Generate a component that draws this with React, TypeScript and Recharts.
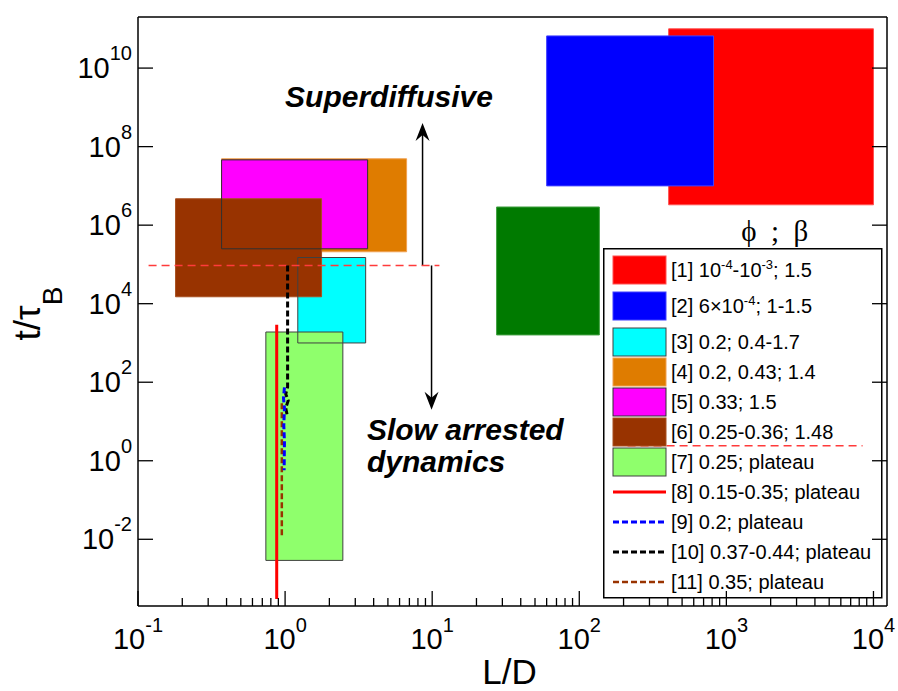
import {
  ComposedChart,
  Legend,
  Line,
  ReferenceArea,
  ReferenceDot,
  ReferenceLine,
  XAxis,
  YAxis,
} from 'recharts'

const SANS = '"Liberation Sans", Arial, Helvetica, sans-serif'
const SERIF = '"Liberation Serif", "Times New Roman", serif'

// shaded boxes, in drawing order (L/D range, t/tauB range)
const boxRefs = ['[1]', '[2]', 'extra', '[3]', '[4]', '[5]', '[6]', '[7]']
const boxLdLow = [405, 60, 27.4, 1.22, 0.37, 0.37, 0.18, 0.74]
const boxLdHigh = [10000, 818, 137, 3.53, 6.7, 3.64, 1.77, 2.47]
const boxTLow = [3.3e6, 1e7, 1.6e3, 1e3, 2.1e5, 2.5e5, 1.5e4, 2.9e-3]
const boxTHigh = [1e11, 6.6e10, 2.9e6, 1.5e5, 4.9e7, 4.6e7, 4.7e6, 1.9e3]

// plateau traces
const ref8 = [{ ld: 0.877, t: 2.9e3 }, { ld: 0.877, t: 3e-4 }]
const ref9 = [
  { ld: 0.99, t: 74 },
  { ld: 0.975, t: 40 },
  { ld: 0.99, t: 22 },
  { ld: 0.98, t: 8 },
  { ld: 0.99, t: 3 },
  { ld: 0.985, t: 0.57 },
]
const ref10 = [
  { ld: 1.04, t: 9.4e4 },
  { ld: 1.04, t: 75 },
  { ld: 1.01, t: 50 },
  { ld: 1.05, t: 34 },
  { ld: 1.01, t: 22 },
  { ld: 1.04, t: 13 },
]
const ref11 = [{ ld: 0.95, t: 29 }, { ld: 0.95, t: 0.0115 }]

// dashed red separators
const divider = [{ ld: 0.118, t: 9.4e4 }, { ld: 11.2, t: 9.4e4 }]
const divider2 = [{ ld: 213, t: 2.4 }, { ld: 8430, t: 2.4 }]

const upArrow = [{ x: 8.6, y: 9.4e4 }, { x: 8.6, y: 4e8 }]
const downArrow = [{ x: 9.9, y: 9.4e4 }, { x: 9.9, y: 20 }]

const legendLabels = [
  '[1] 10^{-4}-10^{-3}; 1.5',
  '[2] 6×10^{-4}; 1-1.5',
  '[3] 0.2; 0.4-1.7',
  '[4] 0.2, 0.43; 1.4',
  '[5] 0.33; 1.5',
  '[6] 0.25-0.36; 1.48',
  '[7] 0.25; plateau',
  '[8] 0.15-0.35; plateau',
  '[9] 0.2; plateau',
  '[10] 0.37-0.44; plateau',
  '[11] 0.35; plateau',
]

const xMajor = [0.1, 1, 10, 100, 1000, 10000]
const xMinorSteps = [2, 3, 4, 5, 6, 7, 8, 9]
const yMajor = [1e-2, 1, 1e2, 1e4, 1e6, 1e8, 1e10]

const X_DOMAIN = [0.1, 12360]
const Y_DOMAIN = [2e-4, 2e11]

const xTicks = xMajor.concat(xMajor.slice(0, -1).flatMap((d) => xMinorSteps.map((m) => d * m)))

const boxFill: Record<string, string> = {
  '[1]': '#ff0000',
  '[2]': '#0000ff',
  extra: '#007a00',
  '[3]': '#00ffff',
  '[4]': '#df7c00',
  '[5]': '#ff00ff',
  '[6]': '#983300',
  '[7]': '#8fff6c',
}
const boxEdge: Record<string, string> = {
  '[1]': '#ff5050',
  '[2]': '#4040ff',
  extra: '#40a040',
  '[3]': '#404040',
  '[4]': '#f0a050',
  '[5]': '#303030',
  '[6]': '#a85020',
  '[7]': '#404040',
}
// boxes whose dark outline stays visible on top of everything
const darkEdged = ['[3]', '[5]', '[7]']

const lineStyle: Record<string, { color: string; dash?: string; width: number }> = {
  '[8]': { color: '#ff0000', width: 3 },
  '[9]': { color: '#0000ff', dash: '6 3', width: 3 },
  '[10]': { color: '#000000', dash: '6 3', width: 3 },
  '[11]': { color: '#993300', dash: '6 3', width: 2.5 },
}

const isDecade = (v: number) => Math.abs(Math.log10(v) - Math.round(Math.log10(v))) < 1e-6
const expOf = (v: number) => String(Math.round(Math.log10(v)))

const BottomTick = (p: any) => {
  const v = p.payload.value
  const major = isDecade(v)
  return (
    <g>
      <line x1={p.x} x2={p.x} y1={p.y} y2={p.y - (major ? 15 : 8)} stroke="#000" strokeWidth={1.3} />
      {major && (
        <text x={p.x} y={p.y + 43} textAnchor="middle" fontFamily={SANS} fontSize={29} fill="#000">
          10<tspan dy={-17} fontSize={20}>{expOf(v)}</tspan>
        </text>
      )}
    </g>
  )
}

const TopTick = (p: any) => {
  const major = isDecade(p.payload.value)
  return <line x1={p.x} x2={p.x} y1={p.y} y2={p.y + (major ? 15 : 8)} stroke="#000" strokeWidth={1.3} />
}

const LeftTick = (p: any) => (
  <g>
    <line x1={p.x} x2={p.x + 15} y1={p.y} y2={p.y} stroke="#000" strokeWidth={1.3} />
    <text x={p.x - 6} y={p.y + 10} textAnchor="end" fontFamily={SANS} fontSize={29} fill="#000">
      10<tspan dy={-18} fontSize={20}>{expOf(p.payload.value)}</tspan>
    </text>
  </g>
)

const RightTick = (p: any) => <line x1={p.x} x2={p.x - 15} y1={p.y} y2={p.y} stroke="#000" strokeWidth={1.3} />

const XTitle = (p: any) => {
  const vb = p.viewBox
  return (
    <text x={vb.x + vb.width / 2 - 3} y={vb.y + 78} textAnchor="middle" fontFamily={SANS} fontSize={35} fill="#000">
      L/D
    </text>
  )
}

const YTitle = (p: any) => {
  const vb = p.viewBox
  const cx = vb.x + 2
  const cy = vb.y + vb.height / 2 + 2
  return (
    <text transform={`rotate(-90 ${cx} ${cy})`} x={cx} y={cy} textAnchor="middle" fontFamily={SANS} fontSize={37} fill="#000">
      t/τ<tspan dy={22} fontSize={28}>B</tspan>
    </text>
  )
}

const ArrowShape = (p: any) => {
  const { x1, y1, x2, y2 } = p
  const dir = y2 < y1 ? 1 : -1
  const head = `M${x2},${y2} L${x2 - 7},${y2 + dir * 18} L${x2},${y2 + dir * 12} L${x2 + 7},${y2 + dir * 18} Z`
  return (
    <g>
      <line x1={x1} y1={y1} x2={x2} y2={y2 + dir * 10} stroke="#000" strokeWidth={1.5} />
      <path d={head} fill="#000" />
    </g>
  )
}

function richText(label: string, size: number) {
  const parts = label.split(/\^\{([^}]*)\}/)
  const out: any[] = []
  let raised = false
  parts.forEach((s, i) => {
    if (i % 2 === 1) {
      out.push(<tspan key={i} dy={-8} fontSize={size * 0.65}>{s}</tspan>)
      raised = true
    } else if (s) {
      out.push(<tspan key={i} dy={raised ? 8 : 0} fontSize={size}>{s}</tspan>)
      raised = false
    }
  })
  return out
}

function LegendBox() {
  let cy = 22
  const rows = legendLabels.map((label) => {
    const ref = label.slice(0, label.indexOf(']') + 1)
    const y = cy
    cy += label.includes('^{') ? 36 : 30
    const line = lineStyle[ref]
    return (
      <g key={ref}>
        {line ? (
          <line x1={10} x2={63} y1={y} y2={y} stroke={line.color} strokeWidth={line.width} strokeDasharray={line.dash} />
        ) : (
          <rect x={10} y={y - 14} width={53} height={28} fill={boxFill[ref]} stroke={boxEdge[ref]} strokeWidth={1} />
        )}
        <text x={68} y={y + 7} fontFamily={SANS} fontSize={20} fill="#000">
          {richText(label, 20)}
        </text>
      </g>
    )
  })
  return (
    <svg width={280} height={351} style={{ display: 'block' }}>
      <rect x={0.75} y={0.75} width={278} height={349} fill="none" stroke="#000" strokeWidth={1.5} />
      {rows}
    </svg>
  )
}

const Annot = ({ cx, cy, children, anchor = 'start', font = SANS, size = 30, bold = true }: any) => (
  <text
    x={cx}
    y={cy}
    textAnchor={anchor}
    fontFamily={font}
    fontSize={size}
    fontWeight={bold ? 'bold' : 'normal'}
    fontStyle={bold ? 'italic' : 'normal'}
    fill="#000"
  >
    {children}
  </text>
)

export default function App() {
  return (
    <div style={{ position: 'absolute', left: 0, top: 0, width: 898, height: 691, background: '#fff' }}>
      <ComposedChart width={898} height={691} margin={{ top: 16, right: 10, bottom: 35, left: 38 }}>
        <XAxis
          xAxisId={0}
          dataKey="ld"
          type="number"
          scale="log"
          domain={X_DOMAIN}
          allowDataOverflow
          ticks={xTicks}
          interval={0}
          height={50}
          tickSize={0}
          tickMargin={0}
          tickLine={false}
          axisLine={{ stroke: '#000', strokeWidth: 1.5 }}
          tick={BottomTick}
          label={{ content: XTitle }}
        />
        <XAxis
          xAxisId="top"
          orientation="top"
          type="number"
          scale="log"
          domain={X_DOMAIN}
          allowDataOverflow
          ticks={xTicks}
          interval={0}
          height={1}
          tickSize={0}
          tickMargin={0}
          tickLine={false}
          axisLine={{ stroke: '#000', strokeWidth: 1.5 }}
          tick={TopTick}
        />
        <YAxis
          yAxisId={0}
          type="number"
          scale="log"
          domain={Y_DOMAIN}
          allowDataOverflow
          ticks={yMajor}
          interval={0}
          width={100}
          tickSize={0}
          tickMargin={0}
          tickLine={false}
          axisLine={{ stroke: '#000', strokeWidth: 1.5 }}
          tick={LeftTick}
          label={{ content: YTitle }}
        />
        <YAxis
          yAxisId="right"
          orientation="right"
          type="number"
          scale="log"
          domain={Y_DOMAIN}
          allowDataOverflow
          ticks={yMajor}
          interval={0}
          width={1}
          tickSize={0}
          tickMargin={0}
          tickLine={false}
          axisLine={{ stroke: '#000', strokeWidth: 1.5 }}
          tick={RightTick}
        />

        {boxRefs.map((ref, i) => (
          <ReferenceArea
            key={'fill' + ref}
            x1={boxLdLow[i]}
            x2={boxLdHigh[i]}
            y1={boxTLow[i]}
            y2={boxTHigh[i]}
            fill={boxFill[ref]}
            fillOpacity={1}
            stroke={darkEdged.includes(ref) ? 'none' : boxEdge[ref]}
            strokeWidth={1}
          />
        ))}
        {boxRefs.map((ref, i) =>
          darkEdged.includes(ref) ? (
            <ReferenceArea
              key={'edge' + ref}
              x1={boxLdLow[i]}
              x2={boxLdHigh[i]}
              y1={boxTLow[i]}
              y2={boxTHigh[i]}
              fill="none"
              fillOpacity={0}
              stroke={boxEdge[ref]}
              strokeWidth={1}
            />
          ) : null,
        )}

        <ReferenceLine segment={upArrow} ifOverflow="visible" shape={ArrowShape} />
        <ReferenceLine segment={downArrow} ifOverflow="visible" shape={ArrowShape} />

        <Line data={divider} dataKey="t" stroke="#ff3b3b" strokeWidth={1.5} strokeDasharray="8 5" dot={false} activeDot={false} legendType="none" isAnimationActive={false} />
        <Line data={divider2} dataKey="t" stroke="#ff3b3b" strokeWidth={1.5} strokeDasharray="8 5" dot={false} activeDot={false} legendType="none" isAnimationActive={false} />
        <Line data={ref8} dataKey="t" stroke={lineStyle['[8]'].color} strokeWidth={3} dot={false} activeDot={false} legendType="none" isAnimationActive={false} />
        <Line data={ref11} dataKey="t" stroke={lineStyle['[11]'].color} strokeWidth={2.5} strokeDasharray="6 3" dot={false} activeDot={false} legendType="none" isAnimationActive={false} />
        <Line data={ref10} dataKey="t" stroke={lineStyle['[10]'].color} strokeWidth={3} strokeDasharray="6 3" dot={false} activeDot={false} legendType="none" isAnimationActive={false} />
        <Line data={ref9} dataKey="t" stroke={lineStyle['[9]'].color} strokeWidth={3} strokeDasharray="6 3" dot={false} activeDot={false} legendType="none" isAnimationActive={false} />

        <ReferenceDot x={1} y={1e9} r={0} shape={(p: any) => <Annot cx={p.cx} cy={p.cy}>Superdiffusive</Annot>} />
        <ReferenceDot
          x={3.6}
          y={3.4}
          r={0}
          shape={(p: any) => (
            <Annot cx={p.cx} cy={p.cy}>
              Slow arrested
              <tspan x={p.cx} dy={32}>dynamics</tspan>
            </Annot>
          )}
        />
        <ReferenceDot
          x={2130}
          y={4e5}
          r={0}
          shape={(p: any) => (
            <Annot cx={p.cx} cy={p.cy} anchor="middle" font={SERIF} size={29} bold={false}>
              {'\u03d5\u00a0\u00a0;\u00a0\u00a0\u03b2'}
            </Annot>
          )}
        />

        <Legend
          layout="vertical"
          align="center"
          verticalAlign="middle"
          wrapperStyle={{ left: 603, top: 248, width: 280, height: 351 }}
          content={() => <LegendBox />}
        />
      </ComposedChart>
    </div>
  )
}
